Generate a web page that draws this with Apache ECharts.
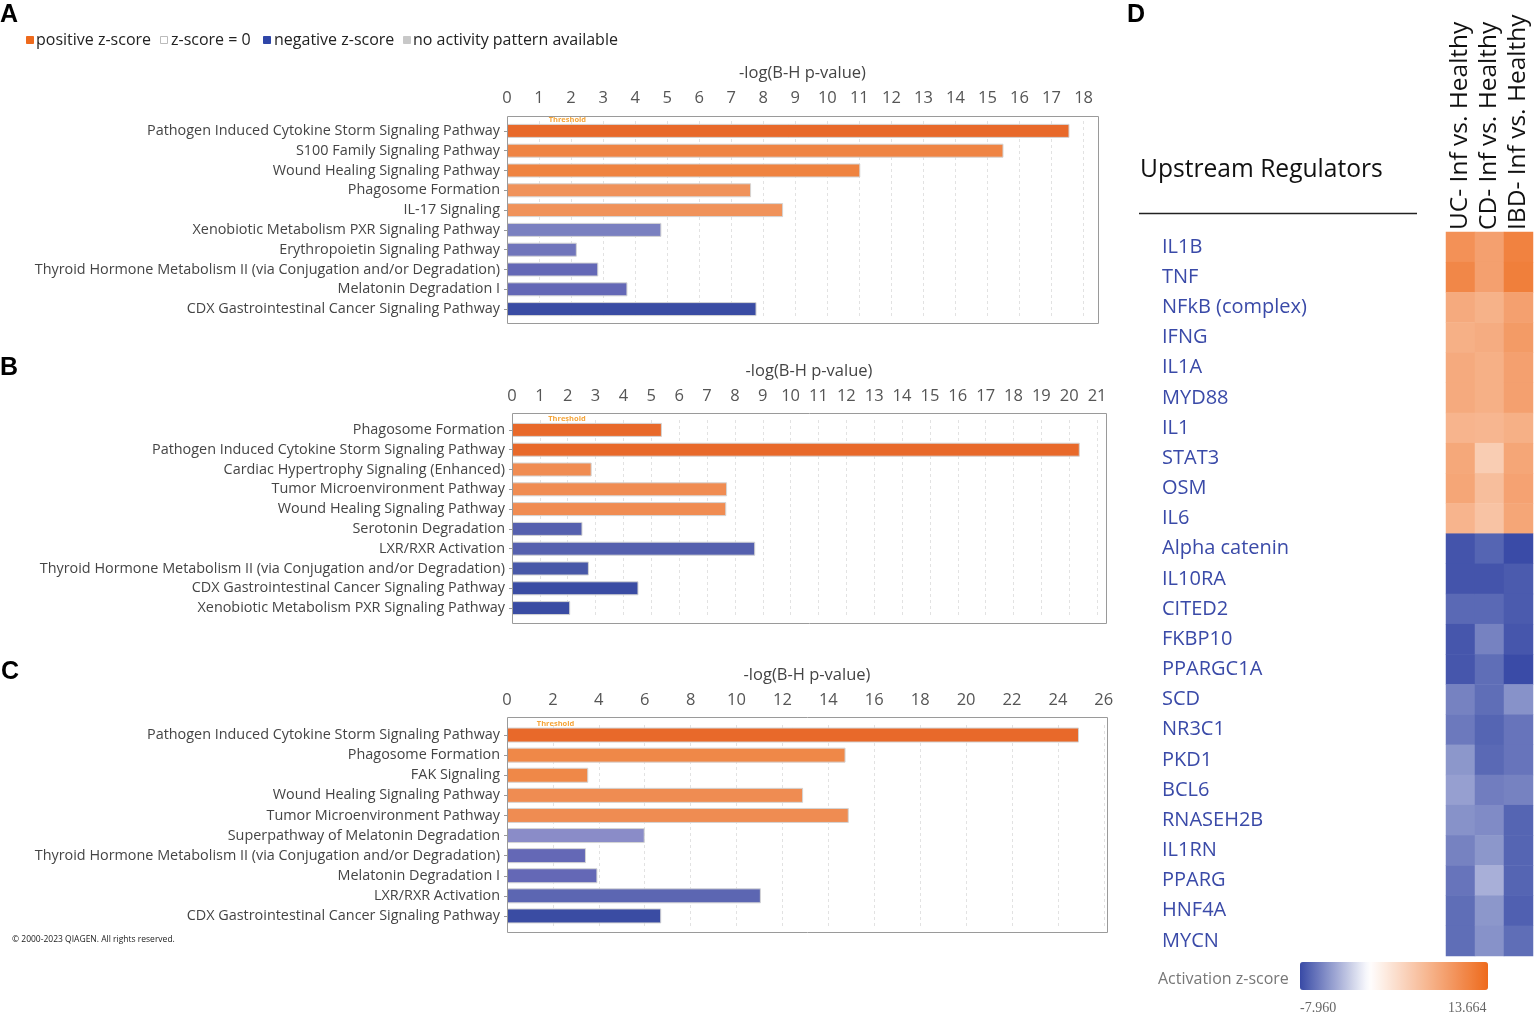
<!DOCTYPE html>
<html>
<head>
<meta charset="utf-8">
<title>IPA pathways and upstream regulators</title>
<script src="https://cdn.jsdelivr.net/npm/echarts@6/dist/echarts.min.js"></script>
<style>
  html, body { margin: 0; padding: 0; background: #fff; }
  #myChart { width: 1535px; height: 1018px; }
</style>
</head>
<body>
<div id="myChart"></div>
<script>
// ---- data ----
var pathwaysA = [
    'Pathogen Induced Cytokine Storm Signaling Pathway',
    'S100 Family Signaling Pathway',
    'Wound Healing Signaling Pathway',
    'Phagosome Formation',
    'IL-17 Signaling',
    'Xenobiotic Metabolism PXR Signaling Pathway',
    'Erythropoietin Signaling Pathway',
    'Thyroid Hormone Metabolism II (via Conjugation and/or Degradation)',
    'Melatonin Degradation I',
    'CDX Gastrointestinal Cancer Signaling Pathway'
];
var logPA = [17.56, 15.5, 11.03, 7.62, 8.62, 4.82, 2.18, 2.85, 3.76, 7.79];

var pathwaysB = [
    'Phagosome Formation',
    'Pathogen Induced Cytokine Storm Signaling Pathway',
    'Cardiac Hypertrophy Signaling (Enhanced)',
    'Tumor Microenvironment Pathway',
    'Wound Healing Signaling Pathway',
    'Serotonin Degradation',
    'LXR/RXR Activation',
    'Thyroid Hormone Metabolism II (via Conjugation and/or Degradation)',
    'CDX Gastrointestinal Cancer Signaling Pathway',
    'Xenobiotic Metabolism PXR Signaling Pathway'
];
var logPB = [5.38, 20.38, 2.86, 7.72, 7.69, 2.53, 8.73, 2.76, 4.54, 2.09];

var pathwaysC = [
    'Pathogen Induced Cytokine Storm Signaling Pathway',
    'Phagosome Formation',
    'FAK Signaling',
    'Wound Healing Signaling Pathway',
    'Tumor Microenvironment Pathway',
    'Superpathway of Melatonin Degradation',
    'Thyroid Hormone Metabolism II (via Conjugation and/or Degradation)',
    'Melatonin Degradation I',
    'LXR/RXR Activation',
    'CDX Gastrointestinal Cancer Signaling Pathway'
];
var logPC = [24.92, 14.75, 3.54, 12.9, 14.89, 6.0, 3.44, 3.94, 11.06, 6.72];

var thresholdLogP = 1.3;

var regulators = ['IL1B', 'TNF', 'NFkB (complex)', 'IFNG', 'IL1A', 'MYD88', 'IL1', 'STAT3', 'OSM', 'IL6',
    'Alpha catenin', 'IL10RA', 'CITED2', 'FKBP10', 'PPARGC1A', 'SCD', 'NR3C1', 'PKD1', 'BCL6',
    'RNASEH2B', 'IL1RN', 'PPARG', 'HNF4A', 'MYCN'];
var comparisons = ['UC- Inf vs. Healthy', 'CD- Inf vs. Healthy', 'IBD- Inf vs. Healthy'];
var zUC  = [10.1, 11.0, 7.8, 7.3, 7.8, 7.8, 6.9, 8.0, 8.2, 6.9,
            -7.5, -7.5, -6.6, -7.4, -7.4, -5.5, -5.9, -4.6, -4.2, -4.8, -5.5, -6.1, -6.4, -6.4];
var zCD  = [8.7, 8.7, 7.1, 7.6, 7.3, 7.3, 6.7, 4.6, 6.0, 5.5,
            -6.8, -7.5, -6.6, -5.5, -6.4, -6.4, -6.8, -6.6, -5.7, -5.1, -4.6, -3.5, -4.6, -4.8];
var zIBD = [11.5, 11.8, 8.7, 9.2, 8.7, 8.7, 7.3, 8.2, 8.5, 8.2,
            -7.9, -7.2, -7.2, -7.4, -7.9, -4.8, -6.1, -6.1, -5.5, -6.8, -6.8, -6.8, -7.0, -6.4];
var zMin = -7.960, zMax = 13.664;

// ---- styles ----
var colorsA = ['#e8692a', '#ef8444', '#ef8340', '#f0925a', '#f0925a', '#7a80c0', '#7075bb', '#6468b6', '#6468b6', '#3a4ca3'];
var colorsB = ['#e8692a', '#e8692a', '#f08c52', '#f08c52', '#f08c52', '#5560ae', '#5560ae', '#4858a8', '#3a4ca3', '#3a4ca3'];
var colorsC = ['#e8692a', '#ef8848', '#ef8848', '#ef8c52', '#ef8c52', '#8a8cc8', '#6468b6', '#6468b6', '#5c66b2', '#3a4ca3'];
var FONT = '"Open Sans", "Noto Sans", sans-serif';

var myChart;

$ready(function () {
    init();
});

function $ready(fn) {
    if (document.readyState !== 'loading') { fn(); } else { document.addEventListener('DOMContentLoaded', fn); }
}

function init() {
    myChart = echarts.init(document.getElementById('myChart'));
    myChart.setOption(buildOption());
}

// blue -> white (at 0) -> orange, sampled evenly over [zMin, zMax]
function zColorStops() {
    var blue = [56, 74, 166], white = [255, 255, 255], orange = [238, 106, 28];
    var stops = [];
    var n = 40;
    for (var i = 0; i <= n; i++) {
        var z = zMin + (zMax - zMin) * i / n;
        var end = z < 0 ? blue : orange;
        var t = z < 0 ? z / zMin : z / zMax;
        var c = [];
        for (var k = 0; k < 3; k++) { c.push(Math.round(white[k] + (end[k] - white[k]) * t)); }
        stops.push('rgb(' + c.join(',') + ')');
    }
    return stops;
}

function makePanel(idx, cats, values, colors, g) {
    return {
        grid: { left: g.left, top: g.top, width: g.width, height: g.height, show: false },
        xAxis: {
            type: 'value', gridIndex: idx, position: 'top',
            min: 0, max: g.max, interval: g.interval,
            name: '-log(B-H p-value)', nameLocation: 'middle', nameGap: g.nameGap,
            nameTextStyle: { fontFamily: FONT, fontSize: 16.5, color: '#444' },
            axisLine: { show: false }, axisTick: { show: false },
            axisLabel: { margin: g.labelMargin, fontFamily: FONT, fontSize: 16.5, color: '#555', showMaxLabel: false },
            splitLine: { show: true, lineStyle: { color: '#e2e2e2', type: [3, 3] } }
        },
        yAxis: {
            type: 'category', gridIndex: idx, inverse: true, data: cats,
            axisLine: { show: false },
            axisTick: { show: true, alignWithLabel: true, length: 3, lineStyle: { color: '#999' } },
            axisLabel: { interval: 0, margin: 7, fontFamily: FONT, fontSize: 14.4, color: '#444' }
        },
        series: {
            type: 'bar', xAxisIndex: idx, yAxisIndex: idx, data: values,
            barWidth: g.bar,
            itemStyle: {
                color: function (p) { return colors[p.dataIndex]; },
                borderColor: '#d4d4d4', borderWidth: 1
            },
            silent: true,
            markLine: {
                symbol: 'none', silent: true,
                lineStyle: { color: 'rgba(255,255,255,0)', width: 1, type: 'solid' },
                label: {
                    show: true, position: 'start', formatter: 'Threshold', align: 'left',
                    distance: -3, fontSize: 7.5, fontWeight: 'bold', color: '#f5a53a', fontFamily: FONT
                },
                data: [{ xAxis: thresholdLogP }]
            }
        }
    };
}

function buildOption() {
    var pA = makePanel(0, pathwaysA, logPA, colorsA,
        { left: 507, top: 121, width: 591, height: 198, max: 18.45, interval: 1, bar: 14, labelMargin: 14, nameGap: 39 });
    var pB = makePanel(1, pathwaysB, logPB, colorsB,
        { left: 512, top: 420, width: 594, height: 198, max: 21.32, interval: 1, bar: 14, labelMargin: 15, nameGap: 40 });
    var pC = makePanel(2, pathwaysC, logPC, colorsC,
        { left: 507, top: 725, width: 600, height: 201, max: 26.14, interval: 2, bar: 15, labelMargin: 16, nameGap: 41 });

    var heatData = [];
    var cols = [zUC, zCD, zIBD];
    for (var c = 0; c < cols.length; c++) {
        for (var r = 0; r < regulators.length; r++) {
            heatData.push([c, r, cols[c][r]]);
        }
    }

    var boxStyle = { fill: 'none', stroke: '#9a9a9a', lineWidth: 1 };
    var box = function (x, y, w, h) {
        return { type: 'rect', shape: { x: x + 0.5, y: y + 0.5, width: w, height: h }, style: boxStyle, silent: true, z: 10 };
    };
    var txt = function (x, y, s, size, color, extra) {
        var st = { text: s, fontFamily: FONT, fontSize: size, fill: color, verticalAlign: 'middle', align: 'left' };
        for (var k in extra || {}) { st[k] = extra[k]; }
        return { type: 'text', x: x, y: y, style: st, silent: true, z: 10 };
    };
    var sq = function (x, fill, stroke) {
        return { type: 'rect', shape: { x: x, y: 36.5, width: 7, height: 7 },
            style: { fill: fill, stroke: stroke || fill, lineWidth: 1 }, silent: true };
    };
    var letter = function (x, y, s) {
        return { type: 'text', x: x, y: y, style: { text: s, fontFamily: '"Liberation Sans", Arial, sans-serif',
            fontSize: 25, fontWeight: 'bold', fill: '#000', verticalAlign: 'middle' }, silent: true };
    };

    return {
        animation: false,
        backgroundColor: '#fff',
        textStyle: { fontFamily: FONT },
        grid: [pA.grid, pB.grid, pC.grid,
            { left: 1446, top: 232, width: 87, height: 724, show: false }],
        xAxis: [pA.xAxis, pB.xAxis, pC.xAxis, {
            type: 'category', gridIndex: 3, position: 'top', data: comparisons,
            axisLine: { show: false }, axisTick: { show: false }, splitLine: { show: false },
            axisLabel: { interval: 0, rotate: -90, margin: 2, fontFamily: FONT, fontSize: 24.5, color: '#111' }
        }],
        yAxis: [pA.yAxis, pB.yAxis, pC.yAxis, {
            type: 'category', gridIndex: 3, inverse: true, data: regulators,
            axisLine: { show: false }, axisTick: { show: false }, splitLine: { show: false },
            axisLabel: { interval: 0, align: 'left', margin: 284, fontFamily: FONT, fontSize: 20, color: '#3a4aa8' }
        }],
        visualMap: {
            type: 'continuous', seriesIndex: 3, min: zMin, max: zMax,
            orient: 'horizontal', left: 1300, top: 962, padding: 0,
            itemWidth: 28, itemHeight: 188, calculable: false, hoverLink: false,
            text: null, showLabel: false,
            inRange: { color: zColorStops() }
        },
        series: [pA.series, pB.series, pC.series, {
            type: 'heatmap', xAxisIndex: 3, yAxisIndex: 3, data: heatData,
            itemStyle: { borderWidth: 0 }, silent: true
        }],
        graphic: [
            letter(0, 15, 'A'), letter(0, 368, 'B'), letter(1, 672, 'C'), letter(1127, 15, 'D'),
            sq(26.5, '#ee6a1c'), txt(36, 40, 'positive z-score', 16, '#222'),
            sq(160.5, '#ffffff', '#bbbbbb'), txt(171, 40, 'z-score = 0', 16, '#222'),
            sq(263.5, '#2f46a8'), txt(274, 40, 'negative z-score', 16, '#222'),
            sq(403.5, '#c8c8c8'), txt(413, 40, 'no activity pattern available', 16, '#222'),
            box(507, 116, 591, 207), box(512, 413, 594, 210), box(507, 717, 600, 215),
            txt(12, 940, '\u00a9 2000-2023 QIAGEN. All rights reserved.', 8.5, '#222'),
            txt(1140, 170, 'Upstream Regulators', 24.6, '#111'),
            { type: 'line', shape: { x1: 1139, y1: 213.5, x2: 1417, y2: 213.5 }, style: { stroke: '#222', lineWidth: 1.5 }, silent: true },
            txt(1158, 979, 'Activation z-score', 16, '#777'),
            txt(1300, 1008, zMin.toFixed(3), 14, '#666', { fontFamily: '"Liberation Serif", serif' }),
            txt(1448, 1008, zMax.toFixed(3), 14, '#666', { fontFamily: '"Liberation Serif", serif' })
        ]
    };
}
</script>
</body>
</html>
